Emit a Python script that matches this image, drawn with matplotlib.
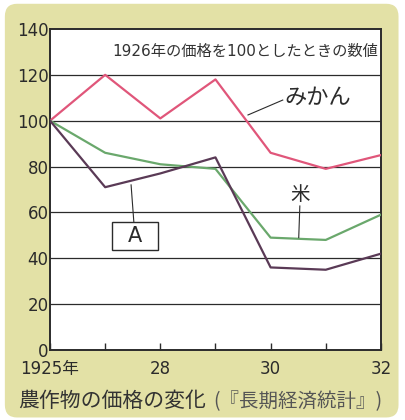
import matplotlib.pyplot as plt
from matplotlib.patches import FancyBboxPatch, Rectangle

plt.rcParams['font.family'] = ['DejaVu Sans', 'Noto Sans CJK JP']

years = [0, 1, 2, 3, 4, 5, 6]
year_labels = ["1925年", "", "28", "", "30", "", "32"]
mikan = [100, 120, 101, 118, 86, 79, 85]
kome = [100, 86, 81, 79, 49, 48, 59]
crop_a = [100, 71, 77, 84, 36, 35, 42]
y_ticks = [0, 20, 40, 60, 80, 100, 120, 140]

bg = "#e3e1a6"
ink = "#2b2b2b"

fig = plt.figure(figsize=(4.05, 4.2), dpi=100)
fig.patch.set_facecolor("white")
fig.patches.append(FancyBboxPatch((0.012, 0.006), 0.972, 0.985,
                                  boxstyle="round,pad=0,rounding_size=0.03",
                                  transform=fig.transFigure, facecolor=bg,
                                  edgecolor="none", zorder=-10))

ax = fig.add_axes([0.1235, 0.1667, 0.817, 0.7643])
ax.set_facecolor("white")

for yv in y_ticks[1:-1]:
    ax.axhline(yv, color=ink, lw=0.9, zorder=1)

ax.plot(years, mikan, color="#e0567a", lw=1.6, zorder=3)
ax.plot(years, kome, color="#6aa86c", lw=1.6, zorder=3)
ax.plot(years, crop_a, color="#5a3a56", lw=1.6, zorder=3)

ax.set_xlim(0, 6)
ax.set_ylim(0, 140)
ax.set_xticks(years)
ax.set_xticklabels(year_labels)
ax.set_yticks(y_ticks)
ax.tick_params(axis="x", direction="in", length=5, width=1, pad=7,
               labelsize=12, colors=ink)
ax.tick_params(axis="y", length=0, pad=1, labelsize=12, colors=ink)
for s in ax.spines.values():
    s.set_linewidth(1.4)
    s.set_color(ink)

ax.text(5.95, 130, "1926年の価格を100としたときの数値", ha="right", va="center",
        fontsize=11, color="#333333")

ax.text(4.25, 110, "みかん", ha="left", va="center", fontsize=16,
        color=ink, family=['Noto Sans CJK JP'])
ax.plot([3.59, 4.22], [102.5, 109], color=ink, lw=0.8, zorder=4)

ax.text(4.53, 68, "米", ha="center", va="center", fontsize=14,
        color=ink, family=['Noto Sans CJK JP'])
ax.plot([4.53, 4.51], [62.8, 49], color=ink, lw=0.8, zorder=4)

ax.add_patch(Rectangle((1.123, 43.6), 0.834, 12.2, facecolor="white",
                       edgecolor=ink, lw=1.0, zorder=5))
ax.text(1.54, 49.7, "A", ha="center", va="center", fontsize=15, color=ink,
        zorder=6)
ax.plot([1.47, 1.52], [72, 55.8], color=ink, lw=0.8, zorder=4)

fig.text(0.044, 0.046, "農作物の価格の変化", ha="left", va="center",
         fontsize=15, color="#333333", family=['Noto Sans CJK JP'])
fig.text(0.527, 0.044, "(『長期経済統計』)", ha="left", va="center",
         fontsize=14, color="#555555", family=['Noto Sans CJK JP'])

fig.savefig("out.png", dpi=100)
